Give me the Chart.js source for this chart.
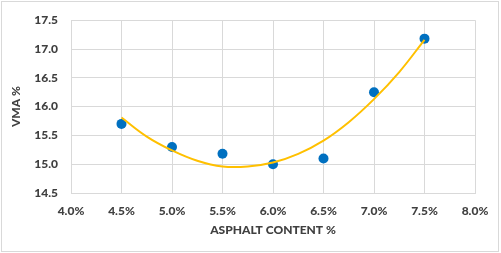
<!DOCTYPE html>
<html>
<head>
<meta charset="utf-8">
<script src="https://cdn.jsdelivr.net/npm/chart.js@4"></script>
<style>
html,body{margin:0;padding:0;background:#fff;}
#wrap{width:501px;height:253px;position:relative;}
</style>
</head>
<body>
<div id="wrap"><canvas id="c" width="501" height="253"></canvas></div>
<script>
// measured points
const asphalt = [4.5, 5.0, 5.5, 6.0, 6.5, 7.0, 7.5];
const vma = [15.70, 15.30, 15.18, 15.00, 15.10, 16.25, 17.18];
// polynomial trendline
const trendX = [4.5, 4.75, 5.0, 5.25, 5.5, 5.75, 6.0, 6.25, 6.5, 6.75, 7.0, 7.25, 7.5];
const trendY = [15.81, 15.48, 15.24, 15.06, 14.96, 14.96, 15.03, 15.18, 15.41, 15.73, 16.13, 16.60, 17.16];

const FONT = "Lato, 'Open Sans', sans-serif";
const TXT = "#404040", GRID = "#d9d9d9";

const frame = {
  id:"frame",
  beforeDraw(ch){ const g=ch.ctx; g.save(); g.fillStyle="#fff"; g.fillRect(0,0,ch.width,ch.height);
    g.strokeStyle=GRID; g.lineWidth=1; g.strokeRect(1.5,1.5,497,250); g.restore(); }
};

new Chart(document.getElementById("c").getContext("2d"), {
  type:"scatter",
  data:{ datasets:[
    { label:"Trend", data:trendX.map((x,i)=>({x, y:trendY[i]})), showLine:true, pointRadius:0,
      borderColor:"#FFC000", borderWidth:2, tension:0.4, fill:false, order:0 },
    { label:"VMA", data:asphalt.map((x,i)=>({x, y:vma[i]})), pointRadius:5, pointHoverRadius:5,
      backgroundColor:"#0070C0", borderColor:"#0070C0", borderWidth:0, order:1 }
  ]},
  options:{
    responsive:false, animation:false, events:[],
    layout:{padding:{left:0,right:26,top:14,bottom:0}},
    plugins:{legend:{display:false}, tooltip:{enabled:false}},
    scales:{
      x:{ type:"linear", min:4, max:8,
        afterFit:s=>{s.height=60;},
        grid:{color:GRID, drawTicks:false}, border:{color:GRID},
        ticks:{stepSize:0.5, padding:11, color:TXT, font:{family:FONT,size:12,weight:"900"}, callback:v=>v.toFixed(1)+"%"},
        title:{display:true, text:"ASPHALT CONTENT %", color:TXT, font:{family:FONT,size:12,weight:"900"}, padding:{top:0,bottom:16}} },
      y:{ min:14.5, max:17.5,
        afterFit:s=>{s.width=71;},
        grid:{color:GRID, drawTicks:false}, border:{color:GRID},
        ticks:{stepSize:0.5, padding:13, color:TXT, font:{family:FONT,size:12,weight:"900"}, callback:v=>v.toFixed(1)},
        title:{display:true, text:"VMA %", color:TXT, font:{family:FONT,size:12,weight:"900"}, padding:{top:9,bottom:0}} }
    }
  },
  plugins:[frame]
});
</script>
</body>
</html>
